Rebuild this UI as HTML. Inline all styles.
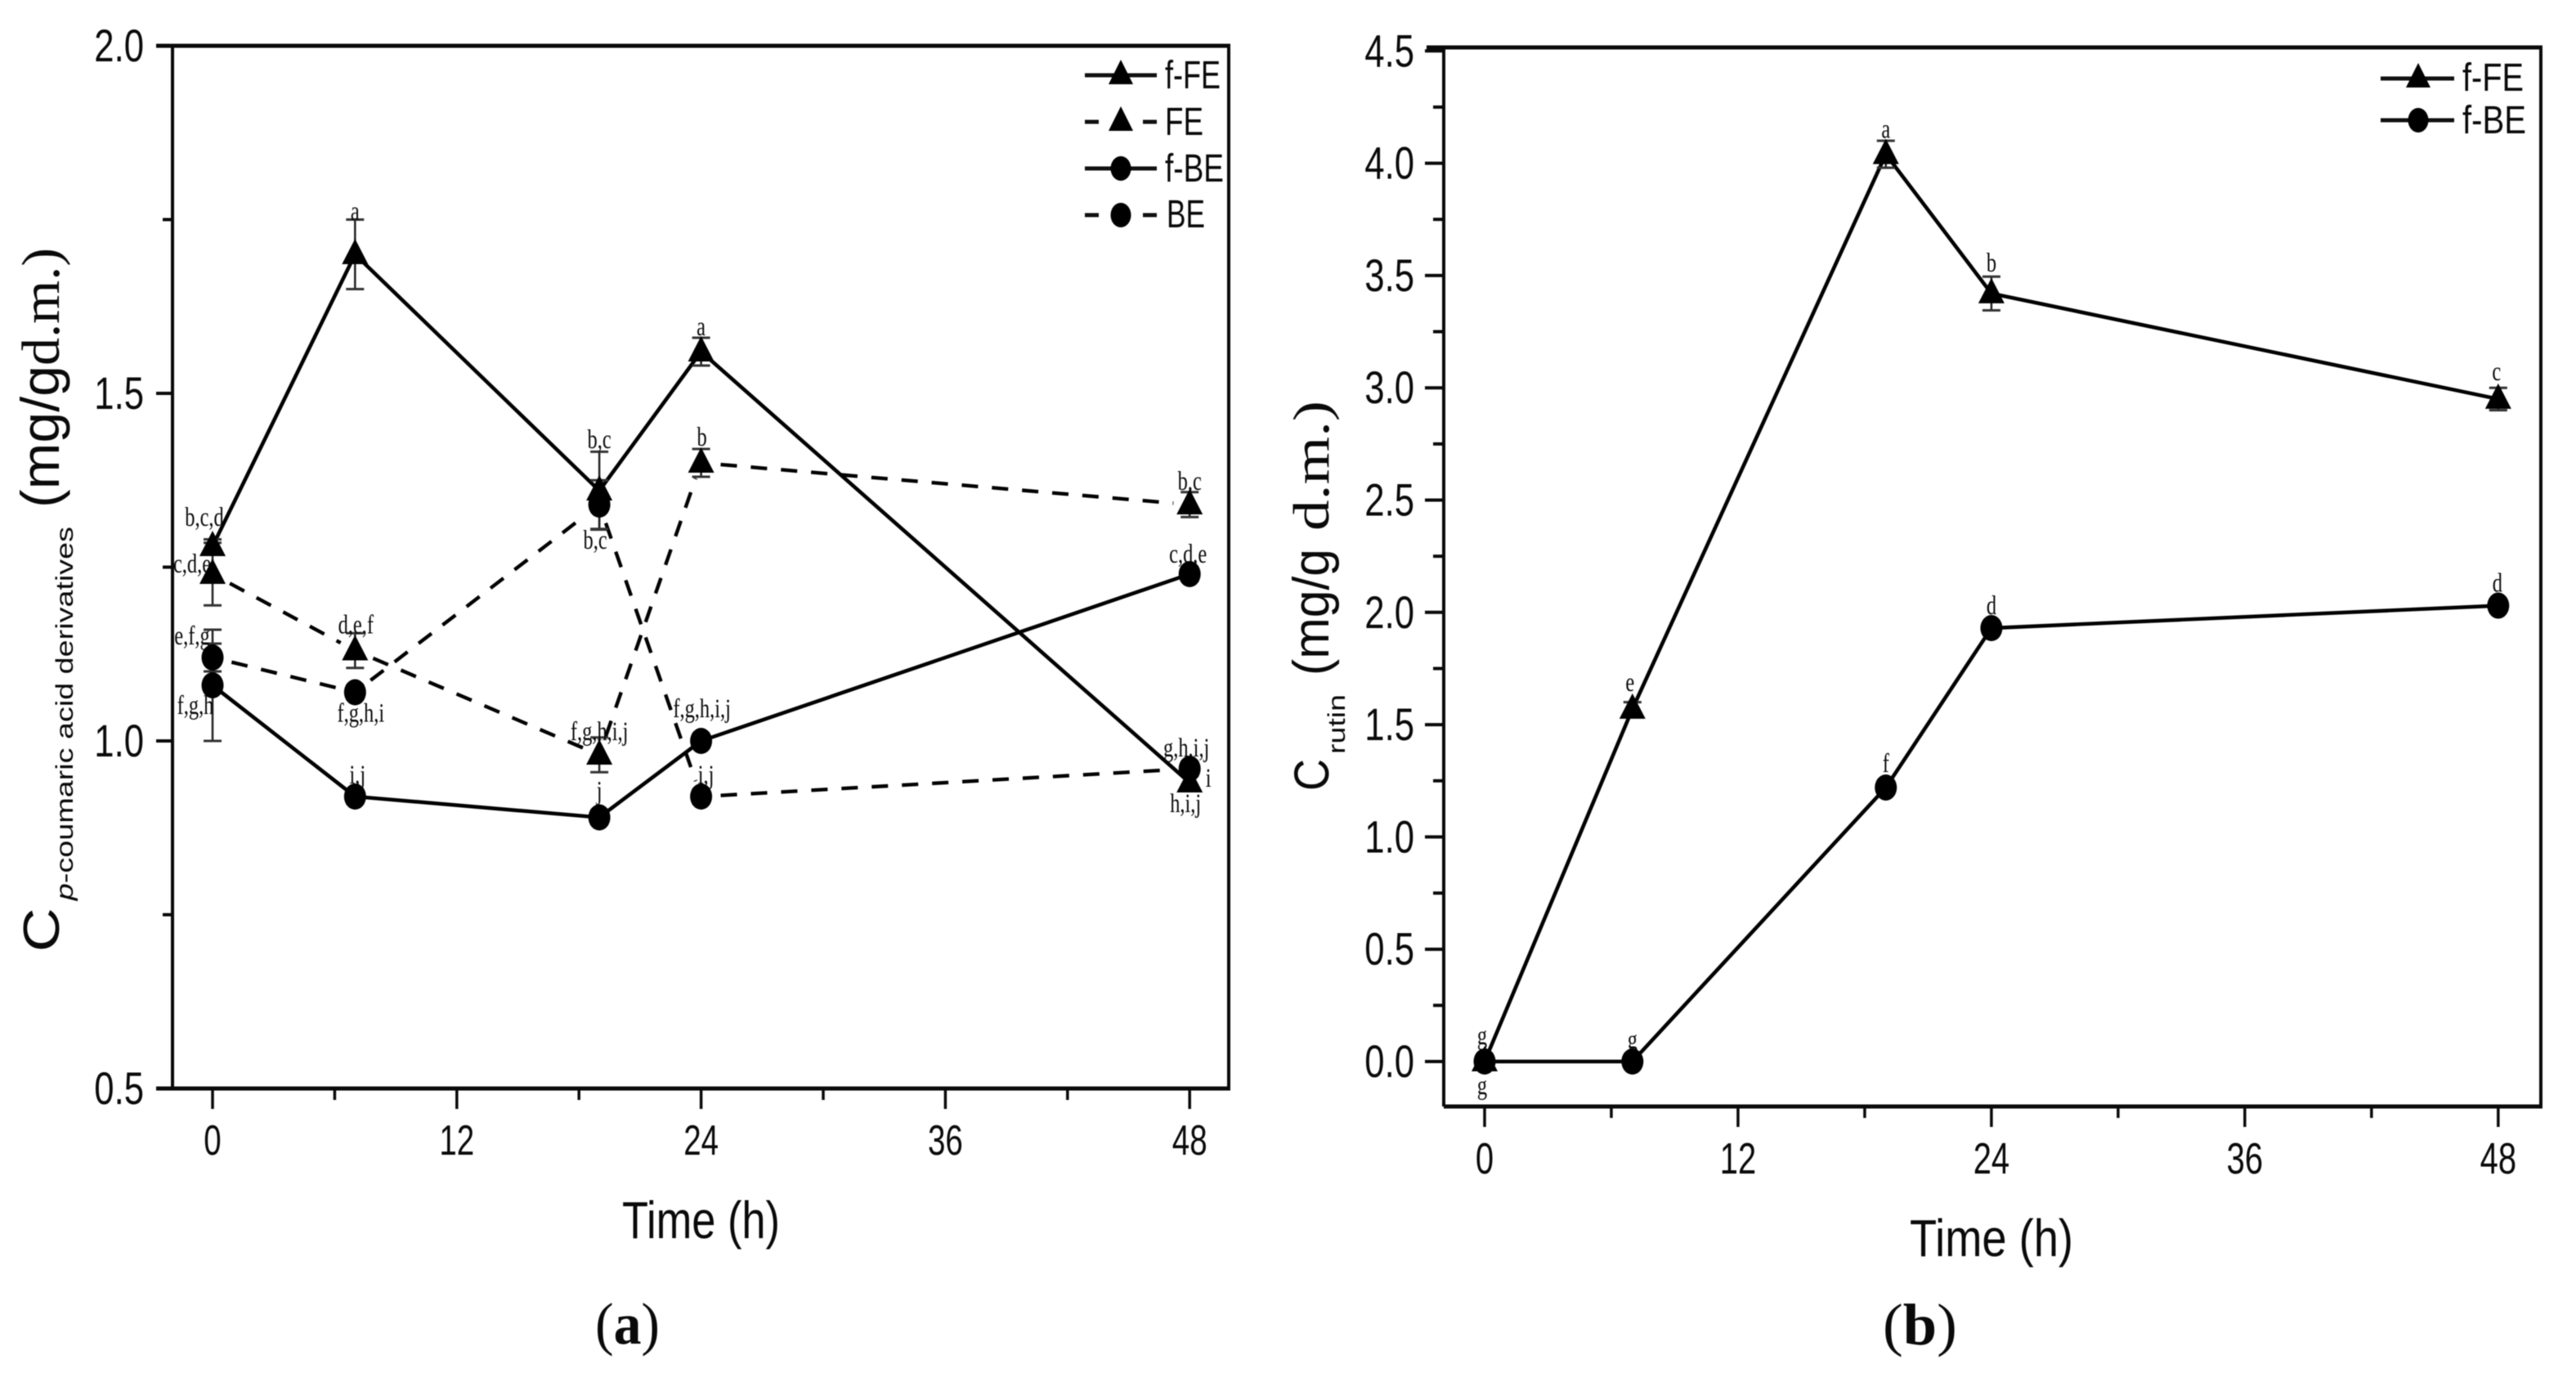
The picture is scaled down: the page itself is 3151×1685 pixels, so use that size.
<!DOCTYPE html>
<html lang="en">
<head>
<meta charset="utf-8">
<title>Time course of p-coumaric acid derivatives and rutin</title>
<style>
html,body{margin:0;padding:0;background:#fff;}
#figure{display:block;width:3151px;height:1685px;filter:blur(.6px);}
text{fill:#0a0a0a;}
.sans{font-family:"Liberation Sans",sans-serif;}
.serif{font-family:"Liberation Serif",serif;}
</style>
</head>
<body>
<svg id="figure" xmlns="http://www.w3.org/2000/svg" width="3151" height="1685" viewBox="0 0 3151 1685">
  <rect x="0" y="0" width="3151" height="1685" fill="#fff"/>

  <g id="panelA">
    <g fill="none" stroke="#0a0a0a">
      <line x1="211" y1="56" x2="211" y2="1331" stroke-width="4"/>
      <line x1="1503" y1="56" x2="1503" y2="1331" stroke-width="4"/>
      <line x1="191" y1="56" x2="1505" y2="56" stroke-width="5"/>
      <line x1="191" y1="1331" x2="1505" y2="1331" stroke-width="5"/>
    </g>
    <text class="sans" font-size="62" transform="translate(72,1164) rotate(-90)" textLength="54" lengthAdjust="spacingAndGlyphs">C</text>
    <text class="sans" font-size="30" transform="translate(89,1101) rotate(-90)" textLength="457" lengthAdjust="spacingAndGlyphs"><tspan font-style="italic">p</tspan>-coumaric acid derivatives</text>
    <text class="sans" font-size="66" transform="translate(72,621) rotate(-90)" textLength="174" lengthAdjust="spacingAndGlyphs">(mg/g</text>
    <text class="serif" font-size="66" transform="translate(72,447) rotate(-90)" textLength="144" lengthAdjust="spacingAndGlyphs">d.m.)</text>
    <text class="sans" font-size="64" x="761" y="1514" textLength="193" lengthAdjust="spacingAndGlyphs">Time (h)</text>
    <text class="serif" font-size="72" x="728" y="1643" textLength="79" lengthAdjust="spacingAndGlyphs">(<tspan font-weight="bold">a</tspan>)</text>
    <g id="legendA"></g>
  </g>

  <g id="panelB">
    <g fill="none" stroke="#0a0a0a">
      <line x1="1766" y1="58" x2="1766" y2="1353" stroke-width="4"/>
      <line x1="3108" y1="58" x2="3108" y2="1353" stroke-width="4"/>
      <line x1="1745" y1="58" x2="3110" y2="58" stroke-width="5"/>
      <line x1="1766" y1="1353" x2="3110" y2="1353" stroke-width="5"/>
    </g>
    <text class="sans" font-size="60" transform="translate(1625,967) rotate(-90)" textLength="39" lengthAdjust="spacingAndGlyphs">C</text>
    <text class="sans" font-size="30" transform="translate(1645,922) rotate(-90)" textLength="73" lengthAdjust="spacingAndGlyphs">rutin</text>
    <text class="sans" font-size="62" transform="translate(1625,826) rotate(-90)" textLength="155" lengthAdjust="spacingAndGlyphs">(mg/g</text>
    <text class="serif" font-size="62" transform="translate(1625,649) rotate(-90)" textLength="159" lengthAdjust="spacingAndGlyphs">d.m.)</text>
    <text class="sans" font-size="64" x="2336" y="1536" textLength="200" lengthAdjust="spacingAndGlyphs">Time (h)</text>
    <text class="serif" font-size="72" x="2303" y="1644" textLength="91" lengthAdjust="spacingAndGlyphs">(<tspan font-weight="bold">b</tspan>)</text>
    <g id="legendB"></g>
  </g>
</svg>

<script>
/* ---------- data ---------- */
const hours = [0, 7, 19, 24, 48];
const xMajorTicks = [0, 12, 24, 36, 48];
const xMinorTicks = [6, 18, 30, 42];

const yMajorTicksA = [0.5, 1.0, 1.5, 2.0];
const yMinorTicksA = [0.75, 1.25, 1.75];
const yTickLabelsA = ["0.5", "1.0", "1.5", "2.0"];

const yMajorTicksB = [0, 0.5, 1, 1.5, 2, 2.5, 3, 3.5, 4, 4.5];
const yMinorTicksB = [0.25, 0.75, 1.25, 1.75, 2.25, 2.75, 3.25, 3.75, 4.25];
const yTickLabelsB = ["0.0", "0.5", "1.0", "1.5", "2.0", "2.5", "3.0", "3.5", "4.0", "4.5"];

const fFE_A = [1.28, 1.70, 1.36, 1.56, 0.94];
const fFE_A_err = [0.01, 0.05, 0.056, 0.02, 0.01];
const fFE_A_sig = ["b,c,d", "a", "b,c", "a", "i"];

const FE_A = [1.24, 1.13, 0.98, 1.40, 1.34];
const FE_A_err = [0.045, 0.025, 0.025, 0.02, 0.018];
const FE_A_sig = ["c,d,e", "d,e,f", "f,g,h,i,j", "b", "b,c"];

const fBE_A = [1.08, 0.92, 0.89, 1.00, 1.24];
const fBE_A_err = [0.08, 0.01, 0.01, 0.01, 0.01];
const fBE_A_sig = ["f,g,h", "i,j", "j", "f,g,h,i,j", "c,d,e"];

const BE_A = [1.12, 1.07, 1.34, 0.92, 0.96];
const BE_A_err = [0.02, 0.01, 0.035, 0.01, 0.01];
const BE_A_sig = ["e,f,g", "f,g,h,i", "b,c", "i,j", "g,h,i,j"];

const fFE_B = [0, 1.57, 4.04, 3.42, 2.95];
const fFE_B_err = [0.01, 0.03, 0.06, 0.075, 0.05];
const fFE_B_sig = ["g", "e", "a", "b", "c"];

const fBE_B = [0, 0, 1.22, 1.93, 2.03];
const fBE_B_err = [0.01, 0.01, 0.02, 0.02, 0.02];
const fBE_B_sig = ["g", "g", "f", "d", "d"];

/* ---------- axis functions ---------- */
function xA(h) { return 260 + h * 24.9; }
function yA(v) { return 906 - (v - 1) * 850; }
function xB(h) { return 1816 + h * 25.83; }
function yB(v) { return 1298 - v * 274.6; }

/* ---------- label nudges relative to each mark (layout only) ---------- */
const nudgeFFEA = [[-10,-25],[0,-42],[0,-52],[0,-20],[23,5]];
const nudgeFEA  = [[-25,-2],[1,-21],[0,-18],[1,-21],[0,-18]];
const nudgeFBEA = [[-21,35],[3,-16],[0,-22],[1,-29],[-2,-14]];
const nudgeBEA  = [[-25,-16],[7,36],[-5,54],[6,-16],[-4,-15]];
const nudgeFFEB = [[-3,40],[-3,-22],[0,-20],[0,-27],[-2,-23]];
const nudgeFBEB = [[-3,-21],[0,-16],[0,-19],[0,-17],[-1,-17]];

/* ---------- helpers ---------- */
const NS = "http://www.w3.org/2000/svg";
function make(tag, attrs, parent, content) {
  const el = document.createElementNS(NS, tag);
  for (const k in attrs) el.setAttribute(k, attrs[k]);
  if (content !== undefined) el.textContent = content;
  parent.appendChild(el);
  return el;
}
function trianglePoints(x, y) {
  return (x) + "," + (y - 19) + " " + (x - 16) + "," + (y + 12) + " " + (x + 16) + "," + (y + 12);
}

function drawLines(group, name, xs, ys, dashed) {
  for (let i = 0; i < xs.length - 1; i++) {
    let x1 = xs[i], y1 = ys[i], x2 = xs[i + 1], y2 = ys[i + 1];
    if (dashed) {
      const len = Math.hypot(x2 - x1, y2 - y1);
      const ux = (x2 - x1) / len, uy = (y2 - y1) / len;
      x1 += ux * 24; y1 += uy * 24;
      x2 -= ux * 20; y2 -= uy * 20;
    }
    const seg = make("line", {
      x1: x1, y1: y1, x2: x2, y2: y2,
      stroke: "#000",
      "stroke-width": dashed ? 4.4 : 4.6,
      "stroke-dasharray": dashed ? "20 17" : "none"
    }, group);
    
    
  }
}

function drawErrors(group, name, xs, values, errs, yFn) {
  for (let i = 0; i < xs.length; i++) {
    const top = yFn(values[i] + errs[i]);
    const bot = yFn(values[i] - errs[i]);
    const stem = make("line", { x1: xs[i], x2: xs[i], y1: top, y2: bot, stroke: "#222", "stroke-width": 2.5 }, group);
    
    
    const capT = make("line", { x1: xs[i] - 11, x2: xs[i] + 11, y1: top, y2: top, stroke: "#333", "stroke-width": 3 }, group);
    
    
    const capB = make("line", { x1: xs[i] - 11, x2: xs[i] + 11, y1: bot, y2: bot, stroke: "#333", "stroke-width": 3 }, group);
    
    
  }
}

function drawSig(group, name, xs, ys, sig, nudges) {
  for (let i = 0; i < xs.length; i++) {
    const t = make("text", {
      "class": "serif", "font-size": 33, "text-anchor": "middle",
      transform: "translate(" + (xs[i] + nudges[i][0]) + "," + (ys[i] + nudges[i][1]) + ") scale(.74,1)"
    }, group, sig[i]);
    
    
  }
}

function drawMarks(group, name, xs, ys, shape) {
  for (let i = 0; i < xs.length; i++) {
    let m;
    if (shape === "triangle") {
      m = make("polygon", { points: trianglePoints(xs[i], ys[i]), fill: "#000" }, group);
    } else {
      m = make("ellipse", { cx: xs[i], cy: ys[i], rx: 13.5, ry: 16, fill: "#000" }, group);
    }
    
    
  }
}

function drawSeries(panel, s, xFn, yFn) {
  const xs = hours.map(xFn);
  const ys = s.values.map(yFn);
  const lineGroup = make("g", {}, panel);
  
  
  drawLines(lineGroup, s.name, xs, ys, s.dashed);
  const errGroup = make("g", {}, panel);
  
  
  drawErrors(errGroup, s.name, xs, s.values, s.errs, yFn);
  return { xs: xs, ys: ys };
}

function drawXAxis(panel, name, xFn, axisY, labelY, fontSize) {
  xMajorTicks.forEach(function (h) {
    const tick = make("line", { x1: xFn(h), x2: xFn(h), y1: axisY, y2: axisY + 25, stroke: "#0a0a0a", "stroke-width": 3.5 }, panel);
    
    
    const lab = make("text", {
      "class": "sans", "font-size": fontSize, "text-anchor": "middle",
      transform: "translate(" + xFn(h) + "," + labelY + ") scale(.74,1)"
    }, panel, String(h));
    
    
  });
  xMinorTicks.forEach(function (h) {
    const tick = make("line", { x1: xFn(h), x2: xFn(h), y1: axisY, y2: axisY + 14, stroke: "#0a0a0a", "stroke-width": 3.5 }, panel);
    
    
  });
}

function drawYAxis(panel, name, yFn, axisX, majors, minors, labels, labelX, majLen, minLen) {
  majors.forEach(function (v, i) {
    const tick = make("line", { x1: axisX - majLen, x2: axisX, y1: yFn(v), y2: yFn(v), stroke: "#0a0a0a", "stroke-width": 4 }, panel);
    
    
    const lab = make("text", {
      "class": "sans", "font-size": 56, "text-anchor": "end",
      transform: "translate(" + labelX + "," + (yFn(v) + 19) + ") scale(.78,1)"
    }, panel, labels[i]);
    
    
  });
  minors.forEach(function (v) {
    const tick = make("line", { x1: axisX - minLen, x2: axisX, y1: yFn(v), y2: yFn(v), stroke: "#0a0a0a", "stroke-width": 4 }, panel);
    
    
  });
}

function drawLegendEntry(group, x1, x2, y, label, textX, baseY, textLen, shape, dashed, cx) {
  const entry = make("g", {}, group);
  
  
  if (dashed) {
    const a = make("line", { x1: x1, x2: x1 + 17, y1: y, y2: y, stroke: "#111", "stroke-width": 5 }, entry);
    
    
    const b = make("line", { x1: x2 - 17, x2: x2, y1: y, y2: y, stroke: "#111", "stroke-width": 5 }, entry);
    
    
  } else {
    const l = make("line", { x1: x1, x2: x2, y1: y, y2: y, stroke: "#111", "stroke-width": 5 }, entry);
    
    
  }
  let mark;
  if (shape === "triangle") {
    mark = make("polygon", { points: cx + "," + (y - 19) + " " + (cx - 15) + "," + (y + 11) + " " + (cx + 15) + "," + (y + 11), fill: "#000" }, entry);
  } else {
    mark = make("ellipse", { cx: cx, cy: y, rx: 12.5, ry: 15, fill: "#000" }, entry);
  }
  
  
  const t = make("text", { "class": "sans", "font-size": 48, x: textX, y: baseY, textLength: textLen, lengthAdjust: "spacingAndGlyphs" }, entry, label);
  
  
}

/* ---------- panel a ---------- */
const panelA = document.getElementById("panelA");
drawYAxis(panelA, "panel-a", yA, 211, yMajorTicksA, yMinorTicksA, yTickLabelsA, 176, 20, 12);
drawXAxis(panelA, "panel-a", xA, 1331, 1412, 52);

const seriesA = [
  { name: "f-fe", values: fFE_A, errs: fFE_A_err, sig: fFE_A_sig, nudges: nudgeFFEA, dashed: false, shape: "triangle" },
  { name: "fe", values: FE_A, errs: FE_A_err, sig: FE_A_sig, nudges: nudgeFEA, dashed: true, shape: "triangle" },
  { name: "f-be", values: fBE_A, errs: fBE_A_err, sig: fBE_A_sig, nudges: nudgeFBEA, dashed: false, shape: "circle" },
  { name: "be", values: BE_A, errs: BE_A_err, sig: BE_A_sig, nudges: nudgeBEA, dashed: true, shape: "circle" }
];
const geomA = seriesA.map(function (s) { return drawSeries(panelA, s, xA, yA); });
seriesA.forEach(function (s, i) {
  drawSig(panelA, s.name, geomA[i].xs, geomA[i].ys, s.sig, s.nudges);
});
const extraSigA = make("text", {
  "class": "serif", "font-size": 33, "text-anchor": "middle",
  transform: "translate(" + (xA(hours[4]) - 5) + "," + (yA(fFE_A[4]) + 36) + ") scale(.74,1)"
}, panelA, "h,i,j");


seriesA.forEach(function (s, i) {
  drawMarks(panelA, s.name, geomA[i].xs, geomA[i].ys, s.shape);
});

const legendA = document.getElementById("legendA");
drawLegendEntry(legendA, 1327, 1415, 92, "f-FE", 1425, 108, 68, "triangle", false, 1371);
drawLegendEntry(legendA, 1327, 1415, 149, "FE", 1425, 165, 47, "triangle", true, 1371);
drawLegendEntry(legendA, 1327, 1415, 206, "f-BE", 1425, 222, 72, "circle", false, 1371);
drawLegendEntry(legendA, 1327, 1415, 263, "BE", 1427, 278, 47, "circle", true, 1371);

/* ---------- panel b ---------- */
const panelB = document.getElementById("panelB");
drawYAxis(panelB, "panel-b", yB, 1766, yMajorTicksB, yMinorTicksB, yTickLabelsB, 1730, 23, 13);
drawXAxis(panelB, "panel-b", xB, 1353, 1435, 54);

const seriesB = [
  { name: "f-fe-rutin", values: fFE_B, errs: fFE_B_err, sig: fFE_B_sig, nudges: nudgeFFEB, dashed: false, shape: "triangle" },
  { name: "f-be-rutin", values: fBE_B, errs: fBE_B_err, sig: fBE_B_sig, nudges: nudgeFBEB, dashed: false, shape: "circle" }
];
const geomB = seriesB.map(function (s) { return drawSeries(panelB, s, xB, yB); });
seriesB.forEach(function (s, i) {
  drawSig(panelB, s.name, geomB[i].xs, geomB[i].ys, s.sig, s.nudges);
});
seriesB.forEach(function (s, i) {
  drawMarks(panelB, s.name, geomB[i].xs, geomB[i].ys, s.shape);
});

const legendB = document.getElementById("legendB");
drawLegendEntry(legendB, 2912, 3002, 96, "f-FE", 3012, 111, 75, "triangle", false, 2958);
drawLegendEntry(legendB, 2912, 3002, 147, "f-BE", 3012, 163, 78, "circle", false, 2958);
</script>
</body>
</html>
